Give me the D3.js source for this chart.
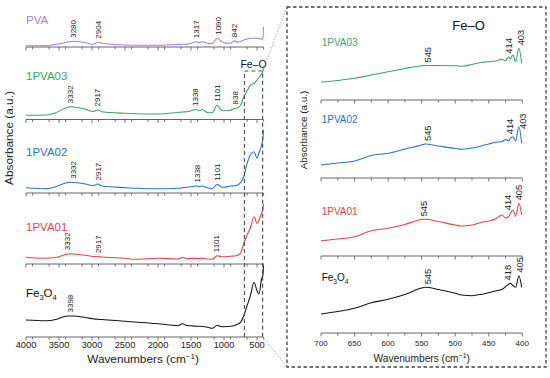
<!DOCTYPE html>
<html><head><meta charset="utf-8">
<script src="https://cdn.jsdelivr.net/npm/d3@7"></script>
<style>
body{margin:0;background:#fff}
svg{display:block;font-family:"Liberation Sans",Arial,sans-serif}
</style></head><body>
<svg id="chart" width="550" height="378"></svg>
<script>
// ---- data (absorbance, arbitrary units) ----
const seriesNames = ["PVA", "1PVA03", "1PVA02", "1PVA01", "Fe3O4"];
const seriesColors = ["#a97fd6", "#3aa66c", "#2f72c4", "#e0474d", "#161616"];

// full range spectra 4000-400 cm-1
const leftWn = [4000, 3700, 3550, 3400, 3332, 3280, 3100, 2980, 2917, 2850, 2500, 2350, 2000, 1700, 1630, 1560, 1420, 1380, 1330, 1250, 1180, 1101, 1050, 1000, 900, 840, 800, 750, 700, 650, 600, 545, 500, 470, 430, 410, 402];
const pvaFull =   [1.3, 1.3, 2.7, 4.5, 5.3, 5.7, 4.3, 2.7, 4.8, 3.7, 2.0, 1.8, 1.7, 2.5, 2.8, 2.6, 5.3, 4.3, 5.3, 3.7, 3.2, 8.7, 6.3, 4.3, 3.8, 6.3, 4.7, 5.5, 7.0, 8.0, 8.7, 8.7, 8.7, 8.5, 8.0, 7.7, 20];
const pva03Full = [4.2, 4.5, 6.8, 11.5, 12.8, 12.5, 10.2, 8.0, 9.5, 7.8, 6.2, 5.8, 5.5, 7.0, 7.5, 7.7, 10, 8.7, 10, 7.0, 6.7, 14.3, 10, 8.7, 9.3, 11, 11.5, 14, 22.7, 28.7, 34.3, 36, 39.3, 42, 45.5, 48.7, 53];
const pva02Full = [5.3, 4.3, 6.3, 10, 10.7, 10.5, 9.0, 7.3, 9.0, 7.0, 5.3, 4.8, 4.2, 4.7, 5.2, 5.7, 7.0, 6.3, 7.0, 5.3, 4.3, 8.7, 6.3, 5.7, 7.0, 7.3, 7.7, 10.3, 16.3, 29.7, 38, 41.3, 35, 40, 48, 55, 63];
const pva01Full = [6.7, 5.7, 6.5, 9.5, 10.3, 10, 8.7, 7.5, 7.3, 7.0, 5.7, 4.7, 5.7, 5.0, 6.7, 5.5, 5.7, 5.5, 5.7, 5.0, 4.7, 8.3, 7.5, 7.3, 7.8, 8.0, 8.5, 10.7, 20.7, 29, 36, 47.3, 40.7, 44, 51, 55, 60];
const feFull =    [17, 16.3, 17.5, 20.7, 21, 21, 19.5, 18.2, 17.7, 17.5, 15.7, 15, 13.3, 11.3, 13.3, 11.5, 10.8, 10.7, 10.5, 9.8, 8.7, 11.7, 10.5, 10.3, 10.7, 11.5, 12.7, 14.7, 21.3, 31.3, 41.3, 54.7, 46.3, 43, 58, 62, 71];

// Fe-O region 700-400 cm-1
const zoomWn = [700, 675, 650, 625, 600, 575, 550, 545, 525, 500, 490, 475, 460, 450, 440, 430, 425, 420, 418, 414, 410, 405, 401];
const pva03Zoom = [17.7, 19.5, 21.7, 25, 28.3, 31.5, 34.3, 34.5, 34.5, 34.3, 33.8, 35.5, 37.7, 38.3, 39, 40.7, 39.5, 43.3, 41, 45, 38.3, 51.7, 36.7];
const pva02Zoom = [13, 15, 17, 22.5, 24.7, 29, 33, 34, 32, 29.5, 28.7, 30, 32.3, 34, 35.7, 36.5, 38.5, 37, 39.5, 41.3, 37, 51.3, 34.7];
const pva01Zoom = [15.3, 17, 19.3, 25.3, 27.7, 31.5, 36.5, 36.7, 34.5, 31, 30, 31, 33.7, 35, 37, 41, 38, 39.7, 42, 46, 39.7, 52.7, 41];
const feZoom =    [19, 21.5, 24.7, 30.3, 33.7, 38.5, 45, 45.7, 43.5, 39.7, 38, 37.3, 38.8, 40.3, 42, 43.7, 46.3, 49, 49.7, 47.5, 45.7, 57.3, 45.7];

// peak labels: where the label sits on the axis, and its text
const pvaPeaks = [{at: 3280, t: "3280"}, {at: 2904, t: "2904"}, {at: 1420, t: "1317"}, {at: 1090, t: "1090"}, {at: 842, t: "842"}];
const pva03Peaks = [{at: 3332, t: "3332"}, {at: 2917, t: "2917"}, {at: 1430, t: "1338"}, {at: 1101, t: "1101"}, {at: 838, t: "838"}];
const pva02Peaks = [{at: 3290, t: "3332"}, {at: 2910, t: "2917"}, {at: 1410, t: "1338"}, {at: 1110, t: "1101"}];
const pva01Peaks = [{at: 3370, t: "3332"}, {at: 2910, t: "2917"}, {at: 1120, t: "1101"}];
const fePeaks = [{at: 3335, t: "3398"}];
const pva03ZoomPeaks = [{at: 541, t: "545"}, {at: 420, t: "414"}, {at: 402, t: "403"}];
const pva02ZoomPeaks = [{at: 541, t: "545"}, {at: 419, t: "414"}, {at: 400, t: "403"}];
const pva01ZoomPeaks = [{at: 547, t: "545"}, {at: 421, t: "414"}, {at: 406, t: "405"}];
const feZoomPeaks = [{at: 541, t: "545"}, {at: 422, t: "418"}, {at: 404, t: "405"}];

const leftTicks = [4000, 3500, 3000, 2500, 2000, 1500, 1000, 500];
const zoomTicks = [700, 650, 600, 550, 500, 450, 400];

// ---- layout ----
const svg = d3.select("#chart");
const leftX = d3.scaleLinear().domain([4000, 400]).range([26, 263.6]);
const zoomX = d3.scaleLinear().domain([700, 400]).range([321, 522.3]);

const leftBase = [47, 119.5, 193, 264, 337];
const zoomBase = [100, 178, 256, 333];
const leftNameY = [20, 76, 151.5, 226.5, 293];
const zoomNameY = [42, 119, 211.5, 277.3];

const leftSets = [pvaFull, pva03Full, pva02Full, pva01Full, feFull];
const leftPeakSets = [pvaPeaks, pva03Peaks, pva02Peaks, pva01Peaks, fePeaks];
const zoomSets = [pva03Zoom, pva02Zoom, pva01Zoom, feZoom];
const zoomPeakSets = [pva03ZoomPeaks, pva02ZoomPeaks, pva01ZoomPeaks, feZoomPeaks];

// each stacked strip: 1 a.u. = 1 px
function stripY(base) {
  return d3.scaleLinear().domain([0, 70]).range([base, base - 70]);
}

function valueAt(wns, vals, w) {
  for (let i = 0; i < wns.length - 1; i++) {
    const a = wns[i], b = wns[i + 1];
    if ((w <= a && w >= b)) {
      const t = (a - w) / (a - b);
      return vals[i] + t * (vals[i + 1] - vals[i]);
    }
  }
  return w > wns[0] ? vals[0] : vals[vals.length - 1];
}

// highest point of the curve around the label, so the text clears the peak
function peakTop(x, wns, vals, w, halfPx) {
  const w0 = x.invert(x(w) - halfPx), w1 = x.invert(x(w) + halfPx);
  let m = valueAt(wns, vals, w);
  [w0, w1].forEach(v => { m = Math.max(m, valueAt(wns, vals, v)); });
  wns.forEach((v, i) => {
    if (v <= Math.max(w0, w1) && v >= Math.min(w0, w1)) m = Math.max(m, vals[i]);
  });
  return m;
}

function drawAxis(x, base, ticks, step, labelled, fontSize, labelY) {
  const [d0, d1] = x.domain();
  const minor = d3.range(d1, d0 + 0.1, step).filter(v => !ticks.includes(v));
  const g = svg.append("g").attr("transform", `translate(0,${base})`);
  g.append("line")
    .attr("x1", x.range()[0]).attr("x2", x.range()[1])
    .attr("stroke", "#555").attr("stroke-width", 0.9);
  g.selectAll(".mj").data(ticks).enter().append("line")
    .attr("x1", d => x(d)).attr("x2", d => x(d))
    .attr("y1", 0).attr("y2", 3.5)
    .attr("stroke", "#555").attr("stroke-width", 0.8);
  g.selectAll(".mn").data(minor).enter().append("line")
    .attr("x1", d => x(d)).attr("x2", d => x(d))
    .attr("y1", 0).attr("y2", 2.5)
    .attr("stroke", "#555").attr("stroke-width", 0.8);
  if (labelled) {
    g.selectAll(".tl").data(ticks).enter().append("text")
      .attr("x", d => x(d)).attr("y", labelY)
      .attr("text-anchor", "middle")
      .attr("font-size", fontSize).attr("fill", "#222")
      .text(d => d);
  }
}

function drawName(x, y, name, color, size) {
  const t = svg.append("text")
    .attr("x", x).attr("y", y).attr("dy", "0.35em")
    .attr("font-size", size).attr("fill", color);
  if (name === "Fe3O4") {
    t.append("tspan").text("Fe");
    t.append("tspan").attr("font-size", size * 0.65).attr("dy", 3).text("3");
    t.append("tspan").attr("dy", -3).text("O");
    t.append("tspan").attr("font-size", size * 0.65).attr("dy", 3).text("4");
  } else {
    t.text(name);
  }
}

function drawPeaks(x, y, wns, vals, peaks, size, gap) {
  peaks.forEach(p => {
    const top = peakTop(x, wns, vals, p.at, 2.5);
    const px = x(p.at), py = y(top) - gap;
    svg.append("text")
      .attr("transform", `translate(${px},${py}) rotate(-90)`)
      .attr("dy", "0.35em")
      .attr("font-size", size).attr("fill", "#222")
      .text(p.t);
  });
}

function drawTitle(x, y, size, rotate) {
  const t = svg.append("text")
    .attr("text-anchor", "middle").attr("font-size", size).attr("fill", "#222");
  if (rotate) {
    t.attr("transform", `translate(${x},${y}) rotate(-90)`).attr("dy", "0.35em").text("Absorbance (a.u.)");
  } else {
    t.attr("x", x).attr("y", y);
    t.append("tspan").text("Wavenumbers (cm");
    t.append("tspan").attr("font-size", size * 0.68).attr("dy", -size * 0.38).text("\u22121");
    t.append("tspan").attr("dy", size * 0.38).text(")");
  }
}

// ---- left panel: full spectra ----
const line = (x, y, wns) => d3.line()
  .x((d, i) => x(wns[i])).y(d => y(d))
  .curve(d3.curveMonotoneX);

leftSets.forEach((vals, i) => {
  const y = stripY(leftBase[i]);
  drawAxis(leftX, leftBase[i], leftTicks, 250, i === leftSets.length - 1, 9.3, 10.5);
  svg.append("path").datum(vals)
    .attr("d", line(leftX, y, leftWn))
    .attr("fill", "none").attr("stroke", seriesColors[i]).attr("stroke-width", 1.1);
  drawName(26, leftNameY[i], seriesNames[i], i === 4 ? "#111" : seriesColors[i], 11.5);
  drawPeaks(leftX, y, leftWn, vals, leftPeakSets[i], 8, 3.5);
});

drawTitle(9, 138, 11.8, true);
drawTitle(143, 363, 11.8, false);

// dashed Fe-O window on the full spectra
const boxL = leftX(690), boxR = leftX(415), boxTop = 71;
svg.append("path")
  .attr("d", `M${boxL},${leftBase[4]}V${boxTop}H${boxR}V${leftBase[4]}`)
  .attr("fill", "none").attr("stroke", "#555").attr("stroke-width", 1.2)
  .attr("stroke-dasharray", "4,3");
svg.append("text")
  .attr("x", (boxL + boxR) / 2).attr("y", 67.5)
  .attr("text-anchor", "middle").attr("font-size", 10.5).attr("fill", "#111")
  .text("Fe\u2013O");

// ---- right panel: Fe-O region ----
const panel = {x0: 287, y0: 7, x1: 546, y1: 367};
[[boxR, boxTop, panel.x0, panel.y0], [boxR, leftBase[4], panel.x0, panel.y1]].forEach(c => {
  svg.append("line")
    .attr("x1", c[0]).attr("y1", c[1]).attr("x2", c[2]).attr("y2", c[3])
    .attr("stroke", "#999").attr("stroke-width", 0.8)
    .attr("stroke-dasharray", "1.5,1.5");
});
svg.append("rect")
  .attr("x", panel.x0).attr("y", panel.y0)
  .attr("width", panel.x1 - panel.x0).attr("height", panel.y1 - panel.y0)
  .attr("fill", "none").attr("stroke", "#444").attr("stroke-width", 1.3)
  .attr("stroke-dasharray", "3.5,2.5");

zoomSets.forEach((vals, i) => {
  const y = stripY(zoomBase[i]);
  drawAxis(zoomX, zoomBase[i], zoomTicks, 25, i === zoomSets.length - 1, 8, 13);
  svg.append("path").datum(vals)
    .attr("d", line(zoomX, y, zoomWn))
    .attr("fill", "none").attr("stroke", seriesColors[i + 1]).attr("stroke-width", 1.1);
  drawName(321.7, zoomNameY[i], seriesNames[i + 1], i === 3 ? "#111" : seriesColors[i + 1], 10);
  drawPeaks(zoomX, y, zoomWn, vals, zoomPeakSets[i], 9.3, 3);
});

svg.append("text")
  .attr("x", 468.5).attr("y", 29.5)
  .attr("text-anchor", "middle").attr("font-size", 13).attr("fill", "#111")
  .text("Fe\u2013O");

drawTitle(303.5, 130, 9.9, true);
drawTitle(421.7, 362, 10.2, false);
</script>
</body></html>
